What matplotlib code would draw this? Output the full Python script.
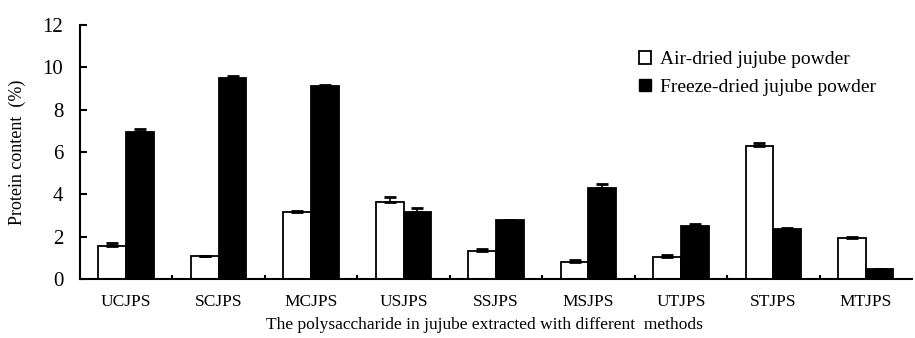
import numpy as np
import matplotlib.pyplot as plt
from matplotlib.patches import Patch

plt.rcParams['font.family'] = ['Liberation Serif', 'DejaVu Serif']

# polysaccharide samples and protein content (%)
samples = ['UCJPS', 'SCJPS', 'MCJPS', 'USJPS', 'SSJPS', 'MSJPS', 'UTJPS', 'STJPS', 'MTJPS']
air_dried = [1.57, 1.10, 3.15, 3.65, 1.34, 0.82, 1.02, 6.27, 1.96]
air_err = [0.15, 0.0, 0.08, 0.22, 0.06, 0.06, 0.10, 0.14, 0.03]
freeze_dried = [6.95, 9.48, 9.10, 3.15, 2.77, 4.30, 2.48, 2.36, 0.46]
freeze_err = [0.12, 0.13, 0.08, 0.22, 0.0, 0.20, 0.13, 0.03, 0.0]

x = np.arange(len(samples))
w = 0.30

fig = plt.figure(figsize=(9.15, 3.38), dpi=100)
ax = fig.add_axes([0.0874, 0.1746, 0.9093, 0.7514])

ax.bar(x - w / 2, air_dried, w, color='white', edgecolor='black', linewidth=1.3,
       yerr=[np.zeros(len(x)), air_err], capsize=4.3,
       error_kw=dict(ecolor='black', elinewidth=1.2, capthick=2))
ax.bar(x + w / 2, freeze_dried, w, color='black', edgecolor='black', linewidth=1.3,
       yerr=[np.zeros(len(x)), freeze_err], capsize=4.3,
       error_kw=dict(ecolor='black', elinewidth=1.2, capthick=2))

ax.set_xlim(-0.5, len(samples) - 0.5)
ax.set_ylim(0, 12)
ax.set_yticks(range(0, 13, 2))
ax.set_xticks(x)
ax.set_xticklabels(samples)
ax.set_xticks(np.arange(0.5, len(samples) - 0.5, 1), minor=True)

ax.tick_params(axis='y', direction='in', length=5, width=1.5, labelsize=15, pad=12)
ax.tick_params(axis='x', which='major', length=0, labelsize=12.5, pad=11)
ax.tick_params(axis='x', which='minor', direction='in', length=3, width=1.5)

for side in ['top', 'right']:
    ax.spines[side].set_visible(False)
for side in ['left', 'bottom']:
    ax.spines[side].set_linewidth(1.5)

ax.set_ylabel('Protein content  (%)', fontsize=13, labelpad=12)
ax.set_xlabel('The polysaccharide in jujube extracted with different  methods', fontsize=12.5, labelpad=6)
ax.xaxis.set_label_coords(0.486, -0.15)

handles = [Patch(facecolor='white', edgecolor='black', linewidth=1.3),
           Patch(facecolor='black', edgecolor='black')]
ax.legend(handles, ['Air-dried jujube powder', 'Freeze-dried jujube powder'],
          loc='upper left', bbox_to_anchor=(0.651, 0.965), frameon=False,
          fontsize=14, handlelength=0.6, handleheight=0.6, handletextpad=0.5,
          labelspacing=0.55)

fig.savefig('out.png', dpi=100)
